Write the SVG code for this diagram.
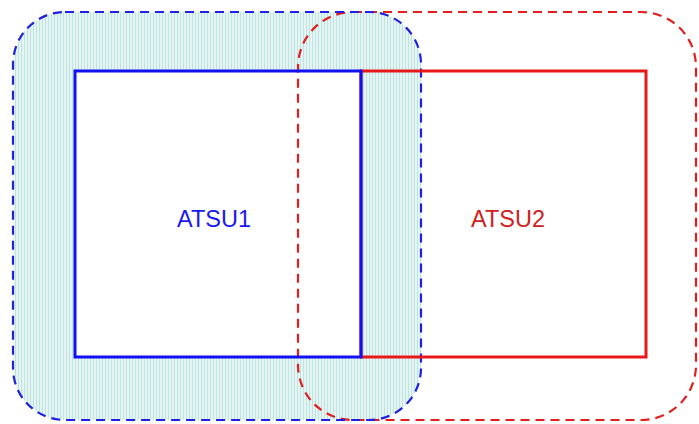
<svg xmlns="http://www.w3.org/2000/svg" width="699" height="424" viewBox="0 0 699 424">
<style>
.lbl{font-family:"Liberation Sans",Arial,sans-serif;font-size:23.5px;text-anchor:middle}
.dash{fill:none;stroke-width:2.2;stroke-dasharray:9,6}
.solid{fill:none;stroke-width:3}
</style>
<defs>
<pattern id="hatch" width="3" height="4" patternUnits="userSpaceOnUse">
<rect width="3" height="4" fill="#e6f5f4"/>
<rect width="1" height="4" fill="#bce4e0"/>
</pattern>
</defs>
<rect width="699" height="424" fill="#fff"/>
<g id="zone1-area">
<rect x="13" y="12" width="408" height="408" rx="52" fill="url(#hatch)"/>
<rect x="75" y="71" width="286" height="286" fill="#fff"/>
</g>
<g id="zone2">
<rect class="dash" x="298" y="12" width="398" height="408" rx="55" stroke="#e02020"/>
</g>
<g id="zone1">
<rect class="dash" x="13" y="12" width="408" height="408" rx="52" stroke="#2020e0"/>
</g>
<g id="ATSU2">
<rect class="solid" x="361" y="71" width="285" height="286" stroke="#e81818"/>
<text class="lbl" x="508" y="227" fill="#d02020">ATSU2</text>
</g>
<g id="ATSU1">
<rect class="solid" x="75" y="71" width="286" height="286" stroke="#1010f0"/>
<text class="lbl" x="214" y="227" fill="#1818f0">ATSU1</text>
</g>
<g id="connectors"></g>
</svg>
